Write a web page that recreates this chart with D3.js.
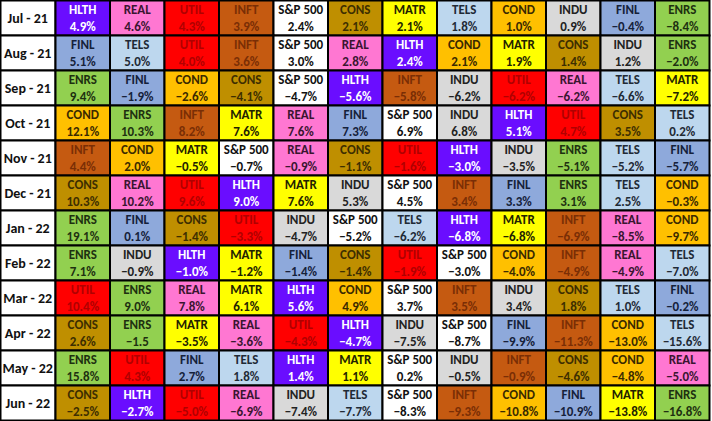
<!DOCTYPE html>
<html>
<head>
<meta charset="utf-8">
<script src="https://cdn.jsdelivr.net/npm/d3@7"></script>
<style>
  body { margin: 0; background: #fff; }
  text { font-family: "Carlito", "Liberation Sans Narrow", "Arial Narrow", sans-serif; font-weight: bold; }
</style>
</head>
<body>
<div id="container"></div>
<script>
const months = ["Jul - 21", "Aug - 21", "Sep - 21", "Oct - 21", "Nov - 21", "Dec - 21",
  "Jan - 22", "Feb - 22", "Mar - 22", "Apr - 22", "May - 22", "Jun - 22"];

// sector order per month (best to worst)
const sectorRows = [
  ["HLTH", "REAL", "UTIL", "INFT", "S&P 500", "CONS", "MATR", "TELS", "COND", "INDU", "FINL", "ENRS"],
  ["FINL", "TELS", "UTIL", "INFT", "S&P 500", "REAL", "HLTH", "COND", "MATR", "CONS", "INDU", "ENRS"],
  ["ENRS", "FINL", "COND", "CONS", "S&P 500", "HLTH", "INFT", "INDU", "UTIL", "REAL", "TELS", "MATR"],
  ["COND", "ENRS", "INFT", "MATR", "REAL", "FINL", "S&P 500", "INDU", "HLTH", "UTIL", "CONS", "TELS"],
  ["INFT", "COND", "MATR", "S&P 500", "REAL", "CONS", "UTIL", "HLTH", "INDU", "ENRS", "TELS", "FINL"],
  ["CONS", "REAL", "UTIL", "HLTH", "MATR", "INDU", "S&P 500", "INFT", "FINL", "ENRS", "TELS", "COND"],
  ["ENRS", "FINL", "CONS", "UTIL", "INDU", "S&P 500", "TELS", "HLTH", "MATR", "INFT", "REAL", "COND"],
  ["ENRS", "INDU", "HLTH", "MATR", "FINL", "CONS", "UTIL", "S&P 500", "COND", "INFT", "REAL", "TELS"],
  ["UTIL", "ENRS", "REAL", "MATR", "HLTH", "COND", "S&P 500", "INFT", "INDU", "CONS", "TELS", "FINL"],
  ["CONS", "ENRS", "MATR", "REAL", "UTIL", "HLTH", "INDU", "S&P 500", "FINL", "INFT", "COND", "TELS"],
  ["ENRS", "UTIL", "FINL", "TELS", "HLTH", "MATR", "S&P 500", "INDU", "INFT", "CONS", "COND", "REAL"],
  ["CONS", "HLTH", "UTIL", "REAL", "INDU", "TELS", "S&P 500", "INFT", "COND", "FINL", "MATR", "ENRS"]
];

// monthly returns, %
const returnRows = [
  [4.9, 4.6, 4.3, 3.9, 2.4, 2.1, 2.1, 1.8, 1.0, 0.9, -0.4, -8.4],
  [5.1, 5.0, 4.0, 3.6, 3.0, 2.8, 2.4, 2.1, 1.9, 1.4, 1.2, -2.0],
  [9.4, -1.9, -2.6, -4.1, -4.7, -5.6, -5.8, -6.2, -6.2, -6.2, -6.6, -7.2],
  [12.1, 10.3, 8.2, 7.6, 7.6, 7.3, 6.9, 6.8, 5.1, 4.7, 3.5, 0.2],
  [4.4, 2.0, -0.5, -0.7, -0.9, -1.1, -1.6, -3.0, -3.5, -5.1, -5.2, -5.7],
  [10.3, 10.2, 9.6, 9.0, 7.6, 5.3, 4.5, 3.4, 3.3, 3.1, 2.5, -0.3],
  [19.1, 0.1, -1.4, -3.3, -4.7, -5.2, -6.2, -6.8, -6.8, -6.9, -8.5, -9.7],
  [7.1, -0.9, -1.0, -1.2, -1.4, -1.4, -1.9, -3.0, -4.0, -4.9, -4.9, -7.0],
  [10.4, 9.0, 7.8, 6.1, 5.6, 4.9, 3.7, 3.5, 3.4, 1.8, 1.0, -0.2],
  [2.6, -1.5, -3.5, -3.6, -4.3, -4.7, -7.5, -8.7, -9.9, -11.3, -13.0, -15.6],
  [15.8, 4.3, 2.7, 1.8, 1.4, 1.1, 0.2, -0.5, -0.9, -4.6, -4.8, -5.0],
  [-2.5, -2.7, -5.0, -6.9, -7.4, -7.7, -8.3, -9.3, -10.8, -10.9, -13.8, -16.8]
];

// cells shown without a % sign in the source: [row, col]
const noPercent = [[9, 1]];

const sectors = ["HLTH", "REAL", "UTIL", "INFT", "S&P 500", "CONS", "MATR", "TELS", "COND", "INDU", "FINL", "ENRS"];
const fills = ["#6A0DFF", "#FF77D2", "#FF0000", "#C55A11", "#FFFFFF", "#BF8F00", "#FFFF00", "#BDD7EE", "#FFC000", "#D9D9D9", "#8EA9DB", "#92D050"];
const inks = ["#FFFFFF", "#3A1530", "#B00000", "#7A2E05", "#111111", "#3D2E00", "#222200", "#1F2A36", "#3A2A00", "#222222", "#15213A", "#1E3010"];

const width = 712, height = 421;
const labelW = 55.5;

const svg = d3.select("#container").append("svg")
  .attr("width", width)
  .attr("height", height);

const xScale = d3.scaleBand().domain(d3.range(12)).range([labelW, 709.5]);
const yScale = d3.scaleBand().domain(months).range([0.5, 420.5]);
const fillScale = d3.scaleOrdinal().domain(sectors).range(fills);
const inkScale = d3.scaleOrdinal().domain(sectors).range(inks);

const cells = [];
months.forEach((m, r) => {
  sectorRows[r].forEach((s, c) => {
    cells.push({ month: m, row: r, col: c, sector: s, value: returnRows[r][c] });
  });
});

const fmt = d3.format(".1f");
const isNoPct = (d) => noPercent.some((p) => p[0] === d.row && p[1] === d.col);

// month labels
const rowsG = svg.append("g");
rowsG.selectAll("rect")
  .data(months)
  .enter()
  .append("rect")
  .attr("x", 0.5)
  .attr("y", (d) => yScale(d))
  .attr("width", labelW - 0.5)
  .attr("height", yScale.bandwidth())
  .attr("fill", "#fff")
  .attr("stroke", "#000")
  .attr("stroke-width", 2);
rowsG.selectAll("text")
  .data(months)
  .enter()
  .append("text")
  .attr("x", labelW / 2)
  .attr("y", (d) => yScale(d) + yScale.bandwidth() / 2 + 5)
  .attr("text-anchor", "middle")
  .attr("font-size", 14)
  .attr("fill", "#111")
  .text((d) => d);

const cellG = svg.append("g")
  .selectAll("g")
  .data(cells)
  .enter()
  .append("g")
  .attr("transform", (d) => `translate(${xScale(d.col)},${yScale(d.month)})`);

cellG.append("rect")
  .attr("width", xScale.bandwidth())
  .attr("height", yScale.bandwidth())
  .attr("fill", (d) => fillScale(d.sector))
  .attr("stroke", "#000")
  .attr("stroke-width", 2);

cellG.append("text")
  .attr("x", xScale.bandwidth() / 2)
  .attr("y", 13)
  .attr("text-anchor", "middle")
  .attr("font-size", 13)
  .attr("fill", (d) => inkScale(d.sector))
  .text((d) => d.sector);

cellG.append("text")
  .attr("x", xScale.bandwidth() / 2)
  .attr("y", 30)
  .attr("text-anchor", "middle")
  .attr("font-size", 13)
  .attr("font-weight", "normal")
  .attr("fill", (d) => inkScale(d.sector))
  .text((d) => fmt(d.value) + (isNoPct(d) ? "" : "%"));
</script>
</body>
</html>
